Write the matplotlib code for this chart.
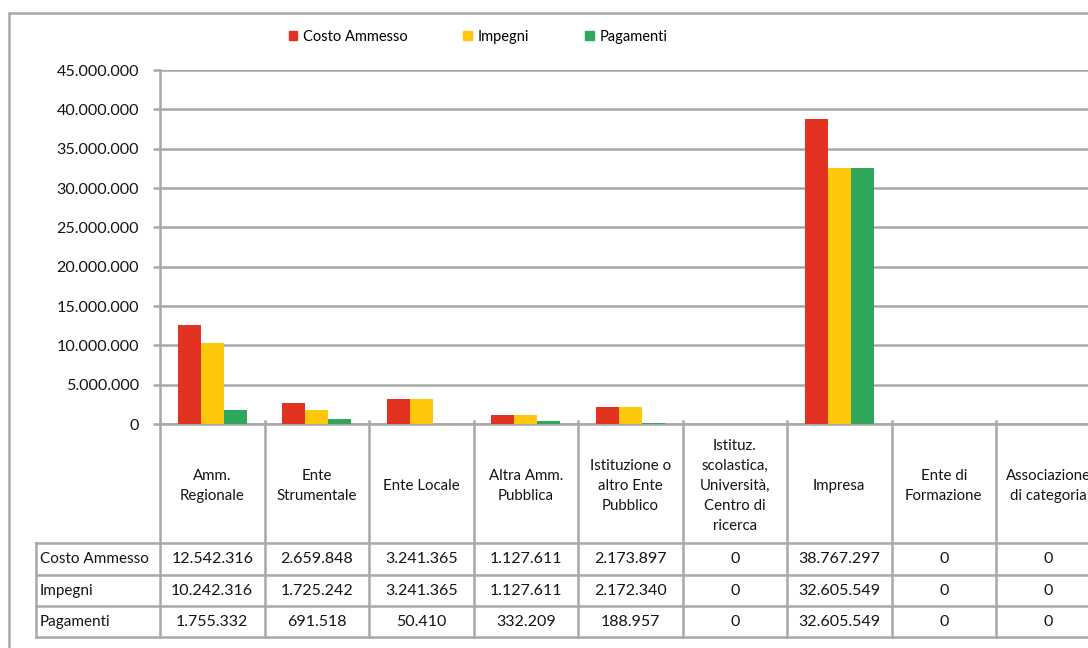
import matplotlib.pyplot as plt
from matplotlib.patches import Patch, Rectangle
from matplotlib.lines import Line2D
import matplotlib.ticker as ticker

plt.rcParams['font.family'] = ['Lato', 'DejaVu Sans']

categories = ['Amm.\nRegionale', 'Ente\nStrumentale', 'Ente Locale', 'Altra Amm.\nPubblica',
              'Istituzione o\naltro Ente\nPubblico',
              'Istituz.\nscolastica,\nUniversità,\nCentro di\nricerca',
              'Impresa', 'Ente di\nFormazione', 'Associazione\ndi categoria']
series_names = ['Costo Ammesso', 'Impegni', 'Pagamenti']
costo = [12542316, 2659848, 3241365, 1127611, 2173897, 0, 38767297, 0, 0]
impegni = [10242316, 1725242, 3241365, 1127611, 2172340, 0, 32605549, 0, 0]
pagamenti = [1755332, 691518, 50410, 332209, 188957, 0, 32605549, 0, 0]
colors = ['#e23322', '#fec70a', '#2ea75b']
grid_c = '#a8a8a8'
text_c = '#141414'


def fmt(v):
    return '{:,}'.format(int(v)).replace(',', '.')


W, H = 1088, 648
fig = plt.figure(figsize=(W / 100, H / 100), dpi=100)
# axes runs past the right edge, like the cropped original
ax = fig.add_axes([160 / W, 1 - 424 / H, 940.5 / W, 354 / H])

n = len(categories)
bw = 0.22
for k, (vals, c) in enumerate(zip([costo, impegni, pagamenti], colors)):
    xs = [i + 0.172 + k * bw for i in range(n)]
    ax.bar(xs, vals, width=bw, align='edge', color=c, zorder=3)

ax.set_xlim(0, n)
ax.set_ylim(0, 45000000)
ax.yaxis.set_major_locator(ticker.MultipleLocator(5000000))
ax.yaxis.set_major_formatter(ticker.FuncFormatter(lambda v, p: fmt(v)))
ax.grid(axis='y', color=grid_c, lw=1.8, zorder=0)
ax.set_xticks([])
for s in ['top', 'right']:
    ax.spines[s].set_visible(False)
ax.spines['left'].set_color(grid_c)
ax.spines['left'].set_linewidth(1.8)
ax.spines['bottom'].set_color(grid_c)
ax.spines['bottom'].set_linewidth(1.8)
ax.tick_params(axis='y', length=5, width=1.8, color=grid_c, labelsize=11.6,
               labelcolor=text_c, pad=10)

# data table under the axis
tr = ax.get_xaxis_transform()
y_head = -0.336
row_y = [-0.336, -0.427, -0.514, -0.602]
x_left = -1.187
for i in range(n + 1):
    ax.add_line(Line2D([i, i], [0.008, row_y[-1]], transform=tr, color=grid_c,
                       lw=1.8, clip_on=False))
ax.add_line(Line2D([x_left, x_left], [row_y[0], row_y[-1]], transform=tr,
                   color=grid_c, lw=1.8, clip_on=False))
for y in row_y:
    ax.add_line(Line2D([x_left, n], [y, y], transform=tr, color=grid_c,
                       lw=1.8, clip_on=False))
for i, cat in enumerate(categories):
    ax.text(i + 0.5, y_head / 2 - 0.008, cat, transform=tr, ha='center', va='center',
            fontsize=10.8, color=text_c, linespacing=1.55)
for r, (name, vals) in enumerate(zip(series_names, [costo, impegni, pagamenti])):
    yc = (row_y[r] + row_y[r + 1]) / 2
    ax.text(x_left + 0.035, yc, name, transform=tr, ha='left', va='center',
            fontsize=11, color=text_c)
    for i, v in enumerate(vals):
        ax.text(i + 0.5, yc, fmt(v), transform=tr, ha='center', va='center',
                fontsize=11.5, color=text_c)

handles = [Patch(color=c) for c in colors]
fig.legend(handles, series_names, loc='center', bbox_to_anchor=(478 / W, 1 - 37 / H),
           ncol=3, frameon=False, fontsize=10.5, handlelength=0.6, handleheight=0.6,
           handletextpad=0.4, columnspacing=3.8)

# outer chart frame
fig.patches.append(Rectangle((9 / W, -0.05), 1.2, 1.05 - 13 / H, transform=fig.transFigure,
                             fill=False, edgecolor=grid_c, lw=1.8))

plt.savefig('out.png', dpi=100)
